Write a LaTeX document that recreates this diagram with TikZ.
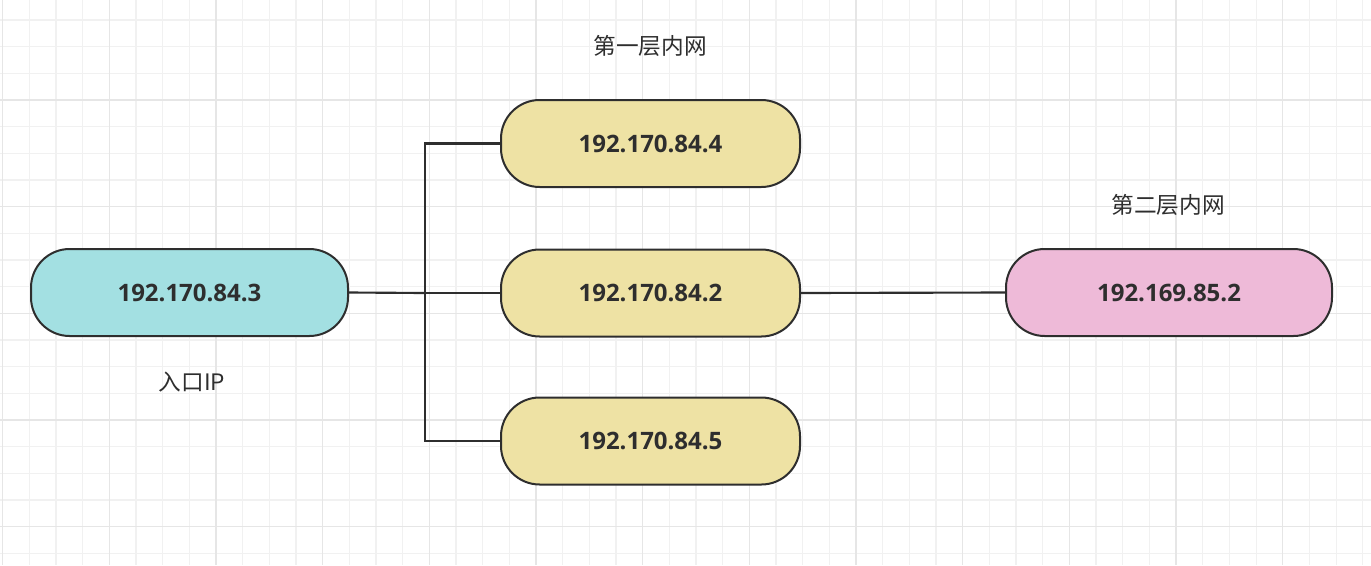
\documentclass[tikz,border=0pt]{standalone}
\usepackage{fontspec}
\setmainfont{Open Sans}
\newfontfamily\cjk{Noto Sans CJK SC}
\usetikzlibrary{arrows.meta}

\definecolor{inkgray}{HTML}{2E2E2E}
\definecolor{gridminor}{HTML}{F1F1F1}
\definecolor{gridmajor}{HTML}{E6E6E6}
\definecolor{entryfill}{HTML}{A3E0E2}
\definecolor{innerfill}{HTML}{EEE2A4}
\definecolor{deepfill}{HTML}{EEBAD8}

\begin{document}
\begin{tikzpicture}[
  x=0.75pt,y=-0.75pt,
  host/.style={draw=inkgray,line width=1.5pt,rounded corners=29pt,
    minimum height=65.25pt,text=inkgray,
    font=\fontsize{18pt}{21pt}\selectfont\bfseries},
  caption/.style={text=inkgray,font=\cjk\fontsize{17pt}{20pt}\selectfont},
  link/.style={draw=inkgray,line width=1.6pt}
]
  \useasboundingbox (0,0) rectangle (1371,565);
  \fill[white] (0,0) rectangle (1371,565);

  % background grid
  \foreach \i in {0,...,51}
    \draw[gridminor,line width=0.8pt] ({2.67+26.667*\i},0) -- ++(0,565);
  \foreach \j in {1,...,21}
    \draw[gridminor,line width=0.8pt] (0,{-6.67+26.667*\j}) -- ++(1371,0);
  \foreach \i in {0,...,12}
    \draw[gridmajor,line width=1pt] ({2.67+106.667*\i},0) -- ++(0,565);
  \foreach \j in {1,...,5}
    \draw[gridmajor,line width=1pt] (0,{-6.67+106.667*\j}) -- ++(1371,0);

  % hosts
  \node[host,fill=entryfill,minimum width=237.75pt,minimum height=65.25pt] (entry) at (189.5,292.5) {192.170.84.3};
  \node[host,fill=innerfill,minimum width=224.25pt] (inner4) at (650.5,143.5) {192.170.84.4};
  \node[host,fill=innerfill,minimum width=224.25pt] (inner2) at (650.5,293) {192.170.84.2};
  \node[host,fill=innerfill,minimum width=224.25pt] (inner5) at (650.5,441) {192.170.84.5};
  \node[host,fill=deepfill,minimum width=244.5pt,minimum height=65.25pt] (deep) at (1169,292.5) {192.169.85.2};

  % captions
  \node[caption] (layer1) at (650,46) {第一层内网};
  \node[caption] (layer2) at (1168,205) {第二层内网};
  \node[caption] (entrycap) at (192,382) {入口IP};

  % links
  \coordinate (fork) at (425,293);
  \draw[link] (entry.east) -- (fork);
  \draw[link] (fork) |- (inner4.west);
  \draw[link] (fork) -- (inner2.west);
  \draw[link] (fork) |- (inner5.west);
  \draw[link] (inner2.east) -- (deep.west);
\end{tikzpicture}
\end{document}
